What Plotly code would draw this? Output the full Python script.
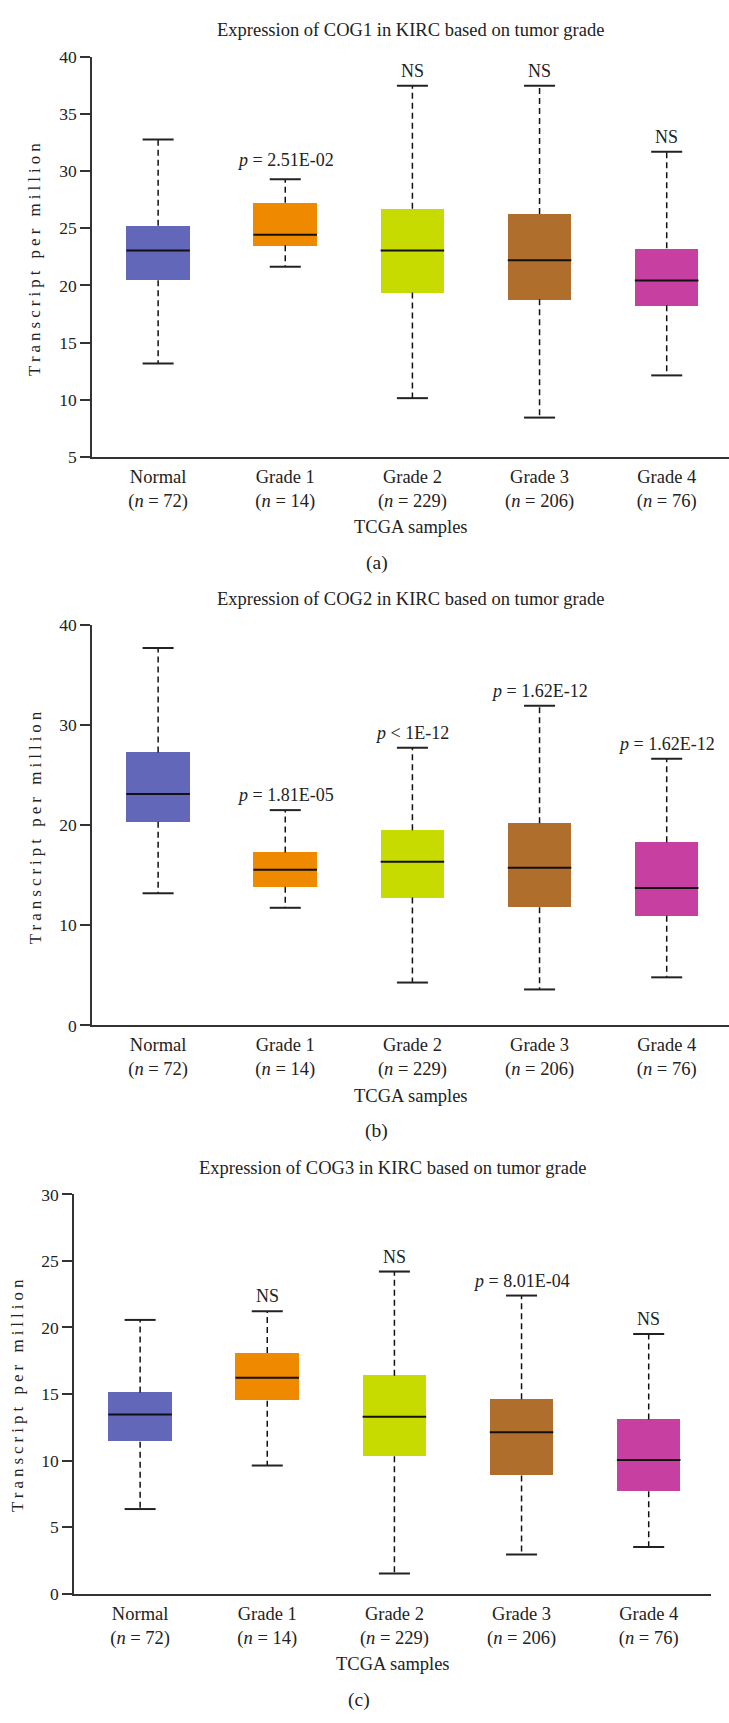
import plotly.graph_objects as go

categories = ["Normal", "Grade 1", "Grade 2", "Grade 3", "Grade 4"]
n_counts = ["72", "14", "229", "206", "76"]
colors = ["#6267BA", "#EE8900", "#C7DB00", "#B06E2C", "#C83FA2"]

genes = ["COG1", "COG2", "COG3"]
panel_letters = ["(a)", "(b)", "(c)"]

# COG1
cog1_lo = [13.18, 21.64, 10.15, 8.45, 12.14]
cog1_q1 = [20.46, 23.51, 19.38, 18.79, 18.27]
cog1_med = [23.05, 24.43, 23.05, 22.21, 20.43]
cog1_q3 = [25.23, 27.24, 26.70, 26.26, 23.25]
cog1_hi = [32.76, 29.28, 37.47, 37.47, 31.70]
cog1_sig = ["", "<i>p</i> = 2.51E-02", "NS", "NS", "NS"]

# COG2
cog2_lo = [13.20, 11.75, 4.28, 3.59, 4.80]
cog2_q1 = [20.36, 13.86, 12.77, 11.81, 10.96]
cog2_med = [23.12, 15.54, 16.36, 15.76, 13.73]
cog2_q3 = [27.27, 17.28, 19.51, 20.20, 18.29]
cog2_hi = [37.70, 21.51, 27.73, 31.94, 26.64]
cog2_sig = ["", "<i>p</i> = 1.81E-05", "<i>p</i> < 1E-12", "<i>p</i> = 1.62E-12", "<i>p</i> = 1.62E-12"]

# COG3
cog3_lo = [6.36, 9.63, 1.51, 2.94, 3.51]
cog3_q1 = [11.41, 14.50, 10.32, 8.88, 7.69]
cog3_med = [13.46, 16.23, 13.29, 12.13, 10.05]
cog3_q3 = [15.12, 18.08, 16.38, 14.60, 13.09]
cog3_hi = [20.57, 21.22, 24.20, 22.40, 19.51]
cog3_sig = ["", "NS", "NS", "<i>p</i> = 8.01E-04", "NS"]

y_ranges = [[5, 40], [0, 40], [0, 30]]
y_dticks = [5, 10, 5]

panels = [
    (cog1_lo, cog1_q1, cog1_med, cog1_q3, cog1_hi, cog1_sig),
    (cog2_lo, cog2_q1, cog2_med, cog2_q3, cog2_hi, cog2_sig),
    (cog3_lo, cog3_q1, cog3_med, cog3_q3, cog3_hi, cog3_sig),
]

W, H = 729, 1723
# pixel layout of plot areas: (left, right, top, bottom)
areas = [(92, 729, 47.3, 452.3), (92, 729, 622.3, 1027.3), (74, 711, 1198.3, 1602.3)]
letter_x = [376.6, 376.6, 359.0]
letter_y = [560, 1134, 1710]

FONT = "Liberation Serif"
TXT = "#222222"
AX = "#333333"
BOXW = 0.5
CAPW = 0.122
YTITLE = "Transcript per million"

fig = go.Figure()
annotations = []
layout_axes = {}

for p, (lo, q1, med, q3, hi, sig) in enumerate(panels):
    k = "" if p == 0 else str(p + 1)
    xa, ya = "x" + k, "y" + k
    idx = list(range(len(categories)))

    # boxes (Q1..Q3)
    fig.add_trace(go.Bar(
        x=idx, y=[b - a for a, b in zip(q1, q3)], base=q1, width=BOXW,
        marker=dict(color=colors, line=dict(width=0)),
        xaxis=xa, yaxis=ya, showlegend=False, hoverinfo="skip"))

    # dashed whiskers
    wx, wy = [], []
    for i in idx:
        wx += [i, i, None, i, i, None]
        wy += [q3[i], hi[i], None, q1[i], lo[i], None]
    fig.add_trace(go.Scatter(
        x=wx, y=wy, mode="lines", line=dict(color="#111111", width=1.5, dash="6px,4px"),
        xaxis=xa, yaxis=ya, showlegend=False, hoverinfo="skip"))

    # whisker caps
    cx, cy = [], []
    for i in idx:
        cx += [i - CAPW, i + CAPW, None, i - CAPW, i + CAPW, None]
        cy += [hi[i], hi[i], None, lo[i], lo[i], None]
    fig.add_trace(go.Scatter(
        x=cx, y=cy, mode="lines", line=dict(color="#222222", width=2),
        xaxis=xa, yaxis=ya, showlegend=False, hoverinfo="skip"))

    # medians
    mx, my = [], []
    for i in idx:
        mx += [i - BOXW / 2, i + BOXW / 2, None]
        my += [med[i], med[i], None]
    fig.add_trace(go.Scatter(
        x=mx, y=my, mode="lines", line=dict(color="#111111", width=2),
        xaxis=xa, yaxis=ya, showlegend=False, hoverinfo="skip"))

    # significance labels
    for i in idx:
        if sig[i]:
            annotations.append(dict(
                x=i, y=hi[i], xref=xa, yref=ya, text=sig[i], showarrow=False,
                yanchor="bottom", yshift=(7 if (p == 0 and sig[i] != "NS") else 3),
                font=dict(family=FONT, size=18, color=TXT)))

    l, r, t, b = areas[p]
    xd = [l / W, r / W]
    yd = [1 - b / H, 1 - t / H]
    ticktext = [f"{c}<br>(<i>n</i> = {n})" for c, n in zip(categories, n_counts)]
    layout_axes["xaxis" + k] = dict(
        domain=xd, anchor=ya, range=[-0.52, 4.49], tickvals=idx, ticktext=ticktext,
        showline=True, linecolor=AX, linewidth=1.5, ticks="", showgrid=False,
        zeroline=False, ticklabelstandoff=2,
        tickfont=dict(family=FONT, size=18.5, color=TXT))
    layout_axes["yaxis" + k] = dict(
        domain=yd, anchor=xa, range=y_ranges[p], dtick=y_dticks[p], tick0=0,
        showline=True, linecolor=AX, linewidth=1.5, ticks="outside", ticklen=10,
        tickwidth=1.5, tickcolor=AX, showgrid=False, zeroline=False,
        tickfont=dict(family=FONT, size=17.5, color=TXT))

    dom = xa + " domain"
    ydom = ya + " domain"
    # panel title
    annotations.append(dict(
        x=0.5, y=1, xref=dom, yref=ydom, yshift=26.5, yanchor="middle",
        text=f"Expression of {genes[p]} in KIRC based on tumor grade", showarrow=False,
        font=dict(family=FONT, size=18.5, color=TXT)))
    # x title
    annotations.append(dict(
        x=0.5, y=0, xref=dom, yref=ydom, yshift=-70.4, yanchor="middle",
        text="TCGA samples", showarrow=False,
        font=dict(family=FONT, size=18.5, color=TXT)))
    # y title
    annotations.append(dict(
        x=0, y=0.5, xref=dom, yref=ydom, xshift=-57, xanchor="center", yanchor="middle",
        textangle=-90, text=YTITLE, showarrow=False,
        font=dict(family=FONT, size=17, color=TXT)))
    # panel letter
    annotations.append(dict(
        x=letter_x[p] / W, y=1 - letter_y[p] / H, xref="paper", yref="paper",
        text=panel_letters[p], showarrow=False, yanchor="middle",
        font=dict(family=FONT, size=19.5, color=TXT)))

fig.update_layout(
    width=W, height=H, margin=dict(l=0, r=0, t=0, b=0),
    paper_bgcolor="white", plot_bgcolor="white",
    annotations=annotations, bargap=0, **layout_axes)

post = """
document.documentElement.style.margin = '0';
document.documentElement.style.overflow = 'hidden';
document.body.style.margin = '0';
document.body.style.padding = '0';
document.body.style.overflow = 'hidden';
var gd = document.querySelector('.plotly-graph-div');
if (gd) { gd.style.position = 'fixed'; gd.style.top = '0px'; gd.style.left = '0px'; }
document.querySelectorAll('.annotation-text').forEach(function (el) {
  if (el.textContent === '%s') { el.style.letterSpacing = '4px'; }
});
""" % YTITLE

fig.write_html("out.html", post_script=post, config={"displayModeBar": False})
